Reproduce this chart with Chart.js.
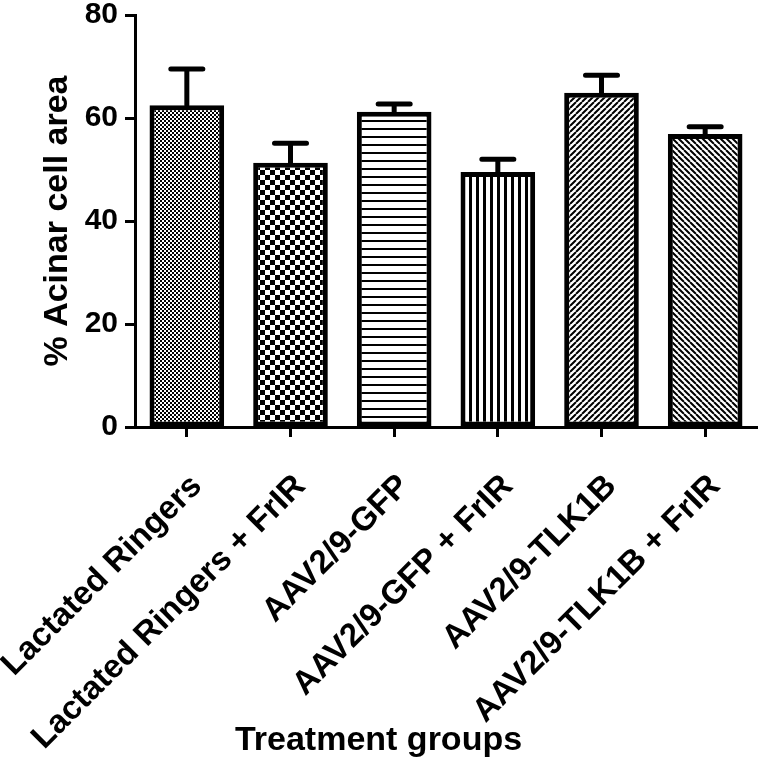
<!DOCTYPE html>
<html>
<head>
<meta charset="utf-8">
<script src="https://cdn.jsdelivr.net/npm/chart.js@4"></script>
<style>
  body { margin: 0; background: #fff; }
  #wrap { width: 760px; height: 762px; position: relative; }
</style>
</head>
<body>
<div id="wrap"><canvas id="myChart"></canvas></div>
<script>
"use strict";
// Data
const groups = [
    "Lactated Ringers",
    "Lactated Ringers + FrIR",
    "AAV2/9-GFP",
    "AAV2/9-GFP + FrIR",
    "AAV2/9-TLK1B",
    "AAV2/9-TLK1B + FrIR"
];
const acinarArea = [62.5, 51.3, 61.2, 49.5, 64.9, 56.9];
const acinarErr = [7.0, 3.8, 1.5, 2.5, 3.4, 1.4];
const yTicks = [0, 20, 40, 60, 80];

// Hatch fills, built on small canvases
function makeTile(w, h, draw) {
    const c = document.createElement('canvas');
    c.width = w;
    c.height = h;
    const g = c.getContext('2d');
    g.fillStyle = '#fff';
    g.fillRect(0, 0, w, h);
    g.fillStyle = '#000';
    g.strokeStyle = '#000';
    draw(g, w, h);
    return document.getElementById('myChart').getContext('2d').createPattern(c, 'repeat');
}

const fills = [
    // fine checker
    makeTile(4, 4, (g) => {
        g.fillRect(0, 0, 2, 2);
        g.fillRect(2, 2, 2, 2);
    }),
    // coarse checker
    makeTile(10, 10, (g) => {
        g.fillRect(0, 0, 5, 5);
        g.fillRect(5, 5, 5, 5);
    }),
    // horizontal lines
    makeTile(8, 8, (g) => {
        g.fillRect(0, 0, 8, 2);
    }),
    // vertical lines
    makeTile(7, 7, (g) => {
        g.fillRect(0, 0, 3, 7);
    }),
    // "/" diagonal
    makeTile(6, 6, (g, w, h) => {
        g.lineWidth = 2;
        g.beginPath();
        for (let k = -1; k <= 1; k++) {
            g.moveTo(k * w, h);
            g.lineTo(k * w + w, 0);
        }
        g.stroke();
    }),
    // "\" diagonal
    makeTile(6, 6, (g, w, h) => {
        g.lineWidth = 2;
        g.beginPath();
        for (let k = -1; k <= 1; k++) {
            g.moveTo(k * w, 0);
            g.lineTo(k * w + w, h);
        }
        g.stroke();
    })
];

// error bars (upper SEM only)
const errorBars = {
    id: 'errorBars',
    afterDatasetsDraw(chart) {
        const ctx = chart.ctx;
        const meta = chart.getDatasetMeta(0);
        const yScale = chart.scales.y;
        ctx.save();
        ctx.strokeStyle = '#000';
        ctx.lineWidth = 5;
        ctx.lineCap = 'round';
        meta.data.forEach((bar, i) => {
            const top = yScale.getPixelForValue(acinarArea[i] + acinarErr[i]);
            ctx.beginPath();
            ctx.moveTo(bar.x, bar.y);
            ctx.lineTo(bar.x, top);
            ctx.moveTo(bar.x - 16, top);
            ctx.lineTo(bar.x + 16, top);
            ctx.stroke();
        });
        ctx.restore();
    }
};

Chart.defaults.font.family = "'Liberation Sans', Arial, sans-serif";
Chart.defaults.color = '#000';

const data = {
    labels: groups,
    datasets: [{
        label: '% Acinar cell area',
        data: acinarArea,
        backgroundColor: fills,
        borderColor: '#000',
        borderWidth: 5,
        borderSkipped: false,
        categoryPercentage: 1,
        barPercentage: 0.72
    }]
};

const config = {
    type: 'bar',
    data: data,
    options: {
        responsive: true,
        maintainAspectRatio: false,
        animation: false,
        layout: { padding: { top: 15, right: 3, bottom: 0, left: 0 } },
        plugins: {
            legend: { display: false },
            tooltip: { enabled: false },
            // zero-height box so the rotated labels can run down beside it
            title: {
                display: true,
                position: 'bottom',
                text: 'Treatment groups',
                padding: { top: -41.4, bottom: 0.6 },
                font: { size: 34, weight: 'bold' }
            }
        },
        scales: {
            x: {
                afterFit: (scale) => {
                    scale.height = 335;
                    scale.paddingLeft = 0;
                    scale.paddingRight = 0;
                },
                border: { display: true, color: '#000', width: 3 },
                grid: {
                    display: true,
                    drawOnChartArea: false,
                    offset: false,
                    tickLength: 10,
                    tickWidth: 3,
                    tickColor: '#000'
                },
                ticks: {
                    minRotation: 45,
                    maxRotation: 45,
                    padding: 30,
                    labelOffset: 10,
                    font: { size: 33, weight: 'bold' }
                }
            },
            y: {
                min: 0,
                max: 80,
                afterFit: (scale) => {
                    scale.width = 135;
                    scale.paddingTop = 0;
                    scale.paddingBottom = 0;
                },
                afterBuildTicks: (scale) => {
                    scale.ticks = yTicks.map((v) => ({ value: v }));
                },
                border: { display: true, color: '#000', width: 3 },
                grid: {
                    display: true,
                    drawOnChartArea: false,
                    tickLength: 10,
                    tickWidth: 3,
                    tickColor: '#000'
                },
                ticks: {
                    padding: 7,
                    font: { size: 30, weight: 'bold' }
                },
                title: {
                    display: true,
                    text: '% Acinar cell area',
                    padding: { top: 37, bottom: 0 },
                    font: { size: 34, weight: 'bold' }
                }
            }
        }
    },
    plugins: [errorBars]
};

const myChart = new Chart(document.getElementById('myChart'), config);
</script>
</body>
</html>
